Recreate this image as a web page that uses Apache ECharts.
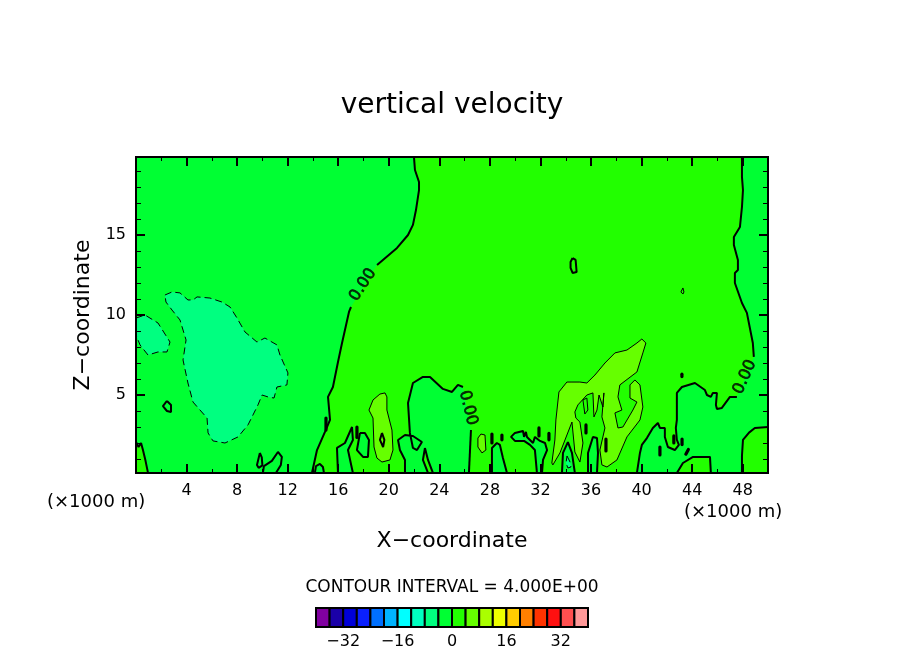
<!DOCTYPE html>
<html>
<head>
<meta charset="utf-8">
<title>vertical velocity</title>
<script src="https://cdn.jsdelivr.net/npm/echarts@6/dist/echarts.min.js"></script>
<style>
html, body { margin: 0; padding: 0; background: #fff; }
#main { width: 904px; height: 654px; }
</style>
</head>
<body>
<div id="main"></div>
<script>
// colour bar
var barLevels = [-40,-36,-32,-28,-24,-20,-16,-12,-8,-4,0,4,8,12,16,20,24,28,32,36,40];
var barColors = ['#8000a0','#1a00a8','#0000d8','#0a20ff','#0070ff','#00b4ff','#00ffff','#00ffc0','#00ff80','#00ff33',
                 '#22ff00','#66ff00','#aaff00','#eeff00','#ffcc00','#ff8000','#ff3300','#ff1010','#ff5050','#ff9999'];
var barTicks = [-32,-16,0,16,32];

// axis ticks (x1000 m)
var xMajor = [4,8,12,16,20,24,28,32,36,40,44,48];
var xMinor = [2,6,10,14,18,22,26,30,34,38,42,46];
var zMajor = [5,10,15];
var zMinor = [1,2,3,4,6,7,8,9,11,12,13,14,16,17,18,19];
var domain = [[0,0.125],[50,0.125],[50,19.875],[0,19.875]];

// zero contour, left branch (top down, broken at the label)
var zeroLeftUpper = [[21.99,19.88],[22.07,19.06],[22.39,18.31],[22.39,17.81],[22.15,16.56],[21.91,15.63],[21.52,15.0],[20.65,14.19],[19.07,13.13]];
var zeroLeftLower = [[17.01,10.5],[16.85,10.19],[16.3,8.25],[15.98,7.06],[15.58,5.5],[15.19,4.88],[15.35,3.44],[14.95,2.69],[14.32,1.56],[13.92,0.13]];
// zero contour, right branch
var zeroRightUpper = [[47.94,19.88],[47.94,18.63],[48.02,17.81],[47.94,16.75],[47.78,15.5],[47.3,14.88],[47.3,14.38],[47.62,13.44],[47.62,12.81],[47.38,12.63],[47.38,12.0],[47.94,10.75],[48.33,10.13],[48.8,8.25],[48.88,7.38]];
var zeroRightLower = [[47.54,4.88],[46.99,4.88],[46.35,4.19],[45.96,4.13],[45.88,4.38],[45.96,5.13],[45.64,5.13],[45.48,4.88],[45.17,5.0],[45.01,5.31],[44.22,5.75],[43.19,5.5],[42.79,5.13],[42.79,3.44],[42.71,2.94],[42.79,2.19],[42.95,1.88],[42.63,1.56],[42.08,1.75],[41.84,2.38],[41.84,2.94],[41.45,2.94],[41.29,3.25],[40.89,2.94],[40.42,2.31],[40.02,1.88],[39.87,1.38],[39.63,0.13]];

// positive pockets touching the frame
var posCornerLeft = [[0,2.06],[0.2,1.75],[0.4,2.0],[0.55,1.56],[0.75,0.9],[0.95,0.13]];
var posCornerRight = [[47.94,0.13],[47.94,1.2],[48.02,2.19],[48.5,2.65],[48.96,2.94],[50,3.0]];
var posBump = [[42.79,0.13],[43.27,0.75],[44.07,1.13],[45.41,1.13],[45.48,0.13]];
var posSpike = [[22.86,1.69],[22.7,0.94],[23.1,0.13],[23.49,0.13],[23.1,0.94]];

// fingers of the -4..0 band rising from the ground
var negLoopA = [[14.15,0.13],[14.24,0.56],[14.55,0.69],[14.79,0.5],[14.87,0.13]];
var negFingerA = [[15.98,0.13],[15.9,1.69],[16.53,2.0],[17.09,3.0],[17.24,3.0],[17.16,2.19],[16.77,1.56],[17.16,0.13]];
var negLoopB = [[17.72,2.63],[18.11,2.63],[18.43,2.19],[18.35,1.13],[17.96,1.13],[17.48,1.56]];
var negLobeUpper = [[21.28,0.13],[21.28,0.94],[20.88,1.56],[20.73,2.19],[21.28,2.5],[21.91,2.44],[22.62,2.06],[22.23,1.56],[21.91,1.69],[21.67,2.63],[21.52,4.5],[21.91,5.75],[22.7,6.13],[23.26,6.13],[24.28,5.38],[25,5.19],[25.47,5.63],[25.87,5.5]];
var negLobeLower = [[26.5,2.81],[26.34,0.13]];
var negFingerB = [[28.16,0.13],[28.16,1.69],[28.55,2.0],[28.79,1.88],[29.03,1.06],[29.35,0.13]];
var negFingerC = [[31.72,0.13],[31.56,1.56],[31.17,1.88],[30.7,2.13],[29.98,2.13],[29.67,2.38],[29.98,2.63],[30.62,2.75],[30.7,2.38],[30.85,2.69],[30.93,2.38],[31.41,2.0],[31.56,2.38],[31.96,2.13],[32.36,2.0],[32.52,1.56],[32.2,0.94],[32.12,0.13]];
var negFingerD = [[33.7,0.13],[33.78,1.38],[34.17,2.06],[34.49,1.38],[34.72,0.13]];
var negFingerE = [[35.76,0.13],[35.76,1.38],[36.15,2.38],[36.47,2.31],[36.55,1.38],[36.47,0.13]];

// -8..-4 band (dashed)
var lowBig = [[2.29,11.25],[2.85,11.44],[3.48,11.38],[4.11,10.94],[4.51,10.94],[4.83,11.13],[5.85,11.06],[6.8,10.81],[7.44,10.5],[7.99,9.81],[8.62,8.94],[9.57,8.31],[10.2,8.56],[11.15,8.13],[11.39,7.5],[12.02,6.38],[11.94,5.63],[11.15,5.5],[10.92,4.81],[10.44,4.88],[9.97,5.0],[9.65,4.38],[8.86,3.13],[8.07,2.38],[7.04,2.0],[6.09,2.13],[5.7,2.63],[5.62,3.56],[4.51,4.56],[4.11,5.75],[3.72,7.19],[3.96,8.44],[3.48,9.69],[2.85,10.31],[2.37,10.81]];
var lowEdge = [[0,9.81],[0.71,10.0],[1.74,9.5],[2.69,8.31],[2.45,7.69],[1.74,7.69],[0.95,7.5],[0.32,8.13],[0,8.75]];
var lowCore = [[34.1,1.19],[34.34,0.81],[34.41,0.5],[34.17,0.44],[34.02,0.75]];

// 4..8 band (thin)
var highPlume = [[32.9,0.75],[33.14,2.19],[33.22,3.44],[33.46,5.19],[34.09,5.81],[34.49,5.81],[35.12,5.81],[35.67,5.75],[36.31,6.25],[37.1,7.0],[37.89,7.63],[38.84,7.81],[39.63,8.25],[40.02,8.5],[40.34,8.25],[40.1,7.63],[39.63,6.44],[38.28,5.63],[38.13,4.88],[38.44,4.06],[37.89,3.88],[38.13,2.94],[38.52,3.0],[39.31,4.06],[39.63,4.56],[39.08,4.81],[39.08,5.63],[39.47,5.94],[39.87,5.63],[40.1,4.25],[39.87,3.44],[38.84,2.38],[38.05,0.94],[37.26,0.5],[36.86,0.63],[36.7,1.56],[37.1,2.94],[36.86,3.63],[37.02,5.13],[36.94,4.25],[36.63,5.0],[36.47,4.06],[36.23,3.63],[36.15,5.13],[35.67,5.0],[34.96,4.38],[34.72,3.94],[34.8,3.56],[35.12,3.31],[35.36,2.0],[35.12,0.81],[34.72,1.44],[34.49,3.31],[33.54,1.38],[32.98,0.63]];
var highPlumeHole = [[35.36,4.69],[35.67,4.81],[35.75,4.06],[35.51,3.81]];
var highBlobA = [[19.7,5.13],[19.85,4.88],[19.85,4.06],[20.25,2.81],[20.33,1.56],[20.09,0.94],[19.46,0.81],[19.06,1.06],[18.83,1.75],[18.75,3.56],[18.43,4.06],[18.75,4.69],[19.3,5.06]];
var highBlobB = [[27.29,2.56],[27.61,2.5],[27.68,1.56],[27.37,1.38],[27.05,1.75],[27.05,2.31]];
var highSpeck = [[43.27,11.69],[43.35,11.44],[43.27,11.31],[43.11,11.44]];

// small zero loops
var loopTop = [[34.54,13.56],[34.78,13.44],[34.86,12.69],[34.54,12.63],[34.38,12.94],[34.38,13.31]];
var loopLeft = [[2.45,4.63],[2.77,4.38],[2.77,3.94],[2.45,4.0],[2.13,4.31]];
var loopInBlob = [[19.46,2.63],[19.65,2.2],[19.55,1.75],[19.4,1.75],[19.3,2.2]];
var loopGroundA = [[9.8,1.38],[9.57,0.63],[9.7,0.45],[10.0,0.6],[9.95,1.1]];
var curlGround = [[10.04,0.13],[10.12,0.56],[10.75,0.88],[11.23,1.44],[11.54,1.13],[11.46,0.63],[11.07,0.13]];

// tiny zero contours that show as solid ticks
var smudges = [
  [[15.03,3.56],[15.03,2.81]], [[17.48,3.0],[17.48,2.35]], [[28.16,2.56],[28.16,2.0]], [[28.95,2.5],[28.95,2.2]],
  [[31.88,2.94],[31.88,2.44]], [[32.67,2.6],[32.67,2.2]], [[35.6,3.13],[35.6,2.63]], [[37.18,2.25],[37.18,1.5]],
  [[41.45,1.75],[41.45,1.25]], [[42.55,2.44],[42.55,2.0]], [[43.2,2.25],[43.2,1.9]], [[43.7,1.6],[43.5,1.3]], [[43.19,6.3],[43.19,6.15]]
];

// contour labels: x, z, angle
var labelSpots = [[17.96,11.88,57],[26.27,4.19,-76],[48.17,6.13,66]];

var green0 = '#00ff33', green1 = '#22ff00', green2 = '#66ff00', green3 = '#00ff80';

var posMain = zeroRightUpper.concat(zeroRightLower, zeroLeftLower.slice().reverse(), zeroLeftUpper.slice().reverse());

var fillShapes = [
  {path: domain, color: green0},
  {path: posMain, color: green1},
  {path: posCornerLeft.concat([[0,0.13]]), color: green1},
  {path: posCornerRight.concat([[50,0.13]]), color: green1},
  {path: posBump, color: green1},
  {path: negLoopA, color: green0},
  {path: negFingerA, color: green0},
  {path: negLoopB, color: green0},
  {path: negLobeUpper.concat(negLobeLower), color: green0},
  {path: posSpike, color: green1},
  {path: negFingerB, color: green0},
  {path: negFingerC, color: green0},
  {path: negFingerD, color: green0},
  {path: negFingerE, color: green0},
  {path: lowBig, color: green3},
  {path: lowEdge, color: green3},
  {path: lowCore, color: green3},
  {path: highPlume, color: green2},
  {path: highBlobA, color: green2},
  {path: highBlobB, color: green2}
];

function closed(path) { return path.concat([path[0]]); }

var boldLines = [zeroLeftUpper, zeroLeftLower, zeroRightUpper, zeroRightLower, posCornerLeft, posCornerRight, posBump,
  closed(posSpike), negLoopA, negFingerA, closed(negLoopB), negLobeUpper, negLobeLower, negFingerB, negFingerC, negFingerD, negFingerE,
  closed(loopTop), closed(loopLeft), closed(loopInBlob), closed(loopGroundA), curlGround];
var thinLines = [closed(highPlume), closed(highPlumeHole), closed(highBlobA), closed(highBlobB), closed(highSpeck)];
var dashLines = [closed(lowBig), lowEdge, closed(lowCore)];

var fontName = '"DejaVu Sans"';

function lineSeries(path, width, dash) {
  return {
    type: 'line', xAxisIndex: 0, yAxisIndex: 0, data: path, showSymbol: false, symbol: 'none',
    silent: true, z: 3, clip: true,
    lineStyle: {color: '#000', width: width, type: dash || 'solid', cap: width > 3 ? 'round' : 'butt'}
  };
}

var series = [{
  type: 'custom', xAxisIndex: 0, yAxisIndex: 0, clip: true, silent: true, z: 2,
  data: fillShapes.map(function (s) { return s.path[0]; }),
  renderItem: function (params, api) {
    var s = fillShapes[params.dataIndex];
    return {type: 'polygon', shape: {points: s.path.map(function (p) { return api.coord(p); })}, style: {fill: s.color}};
  }
}];
boldLines.forEach(function (p) { series.push(lineSeries(p, 2)); });
thinLines.forEach(function (p) { series.push(lineSeries(p, 1)); });
dashLines.forEach(function (p) { series.push(lineSeries(p, 1, [7, 4])); });
smudges.forEach(function (p) { series.push(lineSeries(p, 3.2)); });

// 0.00 labels on the zero contour
series.push({
  type: 'scatter', xAxisIndex: 0, yAxisIndex: 0, symbolSize: 1, silent: true, z: 4,
  itemStyle: {color: 'rgba(0,0,0,0)'},
  data: labelSpots.map(function (s) {
    return {value: [s[0], s[1]], label: {show: true, position: 'inside', rotate: s[2], formatter: '0.00',
      color: '#000', fontFamily: fontName, fontSize: 16, textBorderColor: '#000', textBorderWidth: 0.7}};
  })
});

// colour bar cells
series.push({
  type: 'custom', xAxisIndex: 4, yAxisIndex: 4, silent: true, z: 2,
  data: barColors.map(function (c, i) { return [barLevels[i], barLevels[i + 1]]; }),
  renderItem: function (params, api) {
    var a = api.coord([api.value(0), 0]);
    var b = api.coord([api.value(1), 1]);
    return {type: 'rect', shape: {x: a[0], y: b[1], width: b[0] - a[0], height: a[1] - b[1]},
      style: {fill: barColors[params.dataIndex], stroke: '#000', lineWidth: 2}};
  }
});

function xAxisOf(grid, pos, ticks, len, withLabel, name) {
  return {
    type: 'value', gridIndex: grid, position: pos, min: 0, max: 50, z: 10,
    name: name || '', nameLocation: 'middle', nameGap: 57,
    nameTextStyle: {color: '#000', fontFamily: fontName, fontSize: 22},
    splitLine: {show: false},
    axisLine: {show: true, onZero: false, lineStyle: {color: '#000', width: 2}},
    axisTick: {show: true, inside: true, length: len, customValues: ticks, lineStyle: {color: '#000', width: len > 5 ? 2 : 1}},
    axisLabel: {show: withLabel, customValues: withLabel ? xMajor : undefined, margin: 10, color: '#000', fontFamily: fontName, fontSize: 16}
  };
}
function zAxisOf(grid, pos, ticks, len, withLabel, name) {
  return {
    type: 'value', gridIndex: grid, position: pos, min: 0.125, max: 19.875, z: 10,
    name: name || '', nameLocation: 'middle', nameRotate: 90, nameGap: 41,
    nameTextStyle: {color: '#000', fontFamily: fontName, fontSize: 22},
    splitLine: {show: false},
    axisLine: {show: true, onZero: false, lineStyle: {color: '#000', width: 2}},
    axisTick: {show: true, inside: true, length: len, customValues: ticks, lineStyle: {color: '#000', width: len > 5 ? 2 : 1}},
    axisLabel: {show: withLabel, customValues: withLabel ? zMajor : undefined, margin: 10, color: '#000', fontFamily: fontName, fontSize: 16}
  };
}

var plotRect = {left: 136, top: 157, width: 632, height: 316, containLabel: false};
var chart = echarts.init(document.getElementById('main'));
chart.setOption({
  animation: false,
  backgroundColor: '#fff',
  title: [
    {text: 'vertical velocity', left: 'center', top: 87, textStyle: {color: '#000', fontFamily: fontName, fontSize: 28, fontWeight: 'normal'}},
    {text: 'CONTOUR INTERVAL = 4.000E+00', left: 'center', top: 574, textStyle: {color: '#000', fontFamily: fontName, fontSize: 17, fontWeight: 'normal'}},
    {text: '(×1000 m)', left: 42, top: 488, textStyle: {color: '#000', fontFamily: fontName, fontSize: 18, fontWeight: 'normal'}},
    {text: '(×1000 m)', left: 679, top: 498, textStyle: {color: '#000', fontFamily: fontName, fontSize: 18, fontWeight: 'normal'}}
  ],
  grid: [
    plotRect, plotRect,
    {left: 316, top: 608, width: 272, height: 19, containLabel: false}
  ],
  xAxis: [
    xAxisOf(0, 'bottom', xMajor, 9, true, 'X\u2212coordinate'),
    xAxisOf(0, 'top', xMajor, 9, false),
    xAxisOf(1, 'bottom', xMinor, 4, false),
    xAxisOf(1, 'top', xMinor, 4, false),
    {type: 'value', gridIndex: 2, min: barLevels[0], max: barLevels[barLevels.length - 1], z: 10,
     splitLine: {show: false}, axisLine: {show: false}, axisTick: {show: false},
     axisLabel: {customValues: barTicks, margin: 7, color: '#000', fontFamily: fontName, fontSize: 16,
       formatter: function (v) { return String(v).replace('-', '\u2212'); }}}
  ],
  yAxis: [
    zAxisOf(0, 'left', zMajor, 9, true, 'Z\u2212coordinate'),
    zAxisOf(0, 'right', zMajor, 9, false),
    zAxisOf(1, 'left', zMinor, 5, false),
    zAxisOf(1, 'right', zMinor, 5, false),
    {type: 'value', gridIndex: 2, min: 0, max: 1, show: false}
  ],
  series: series
});
</script>
</body>
</html>
